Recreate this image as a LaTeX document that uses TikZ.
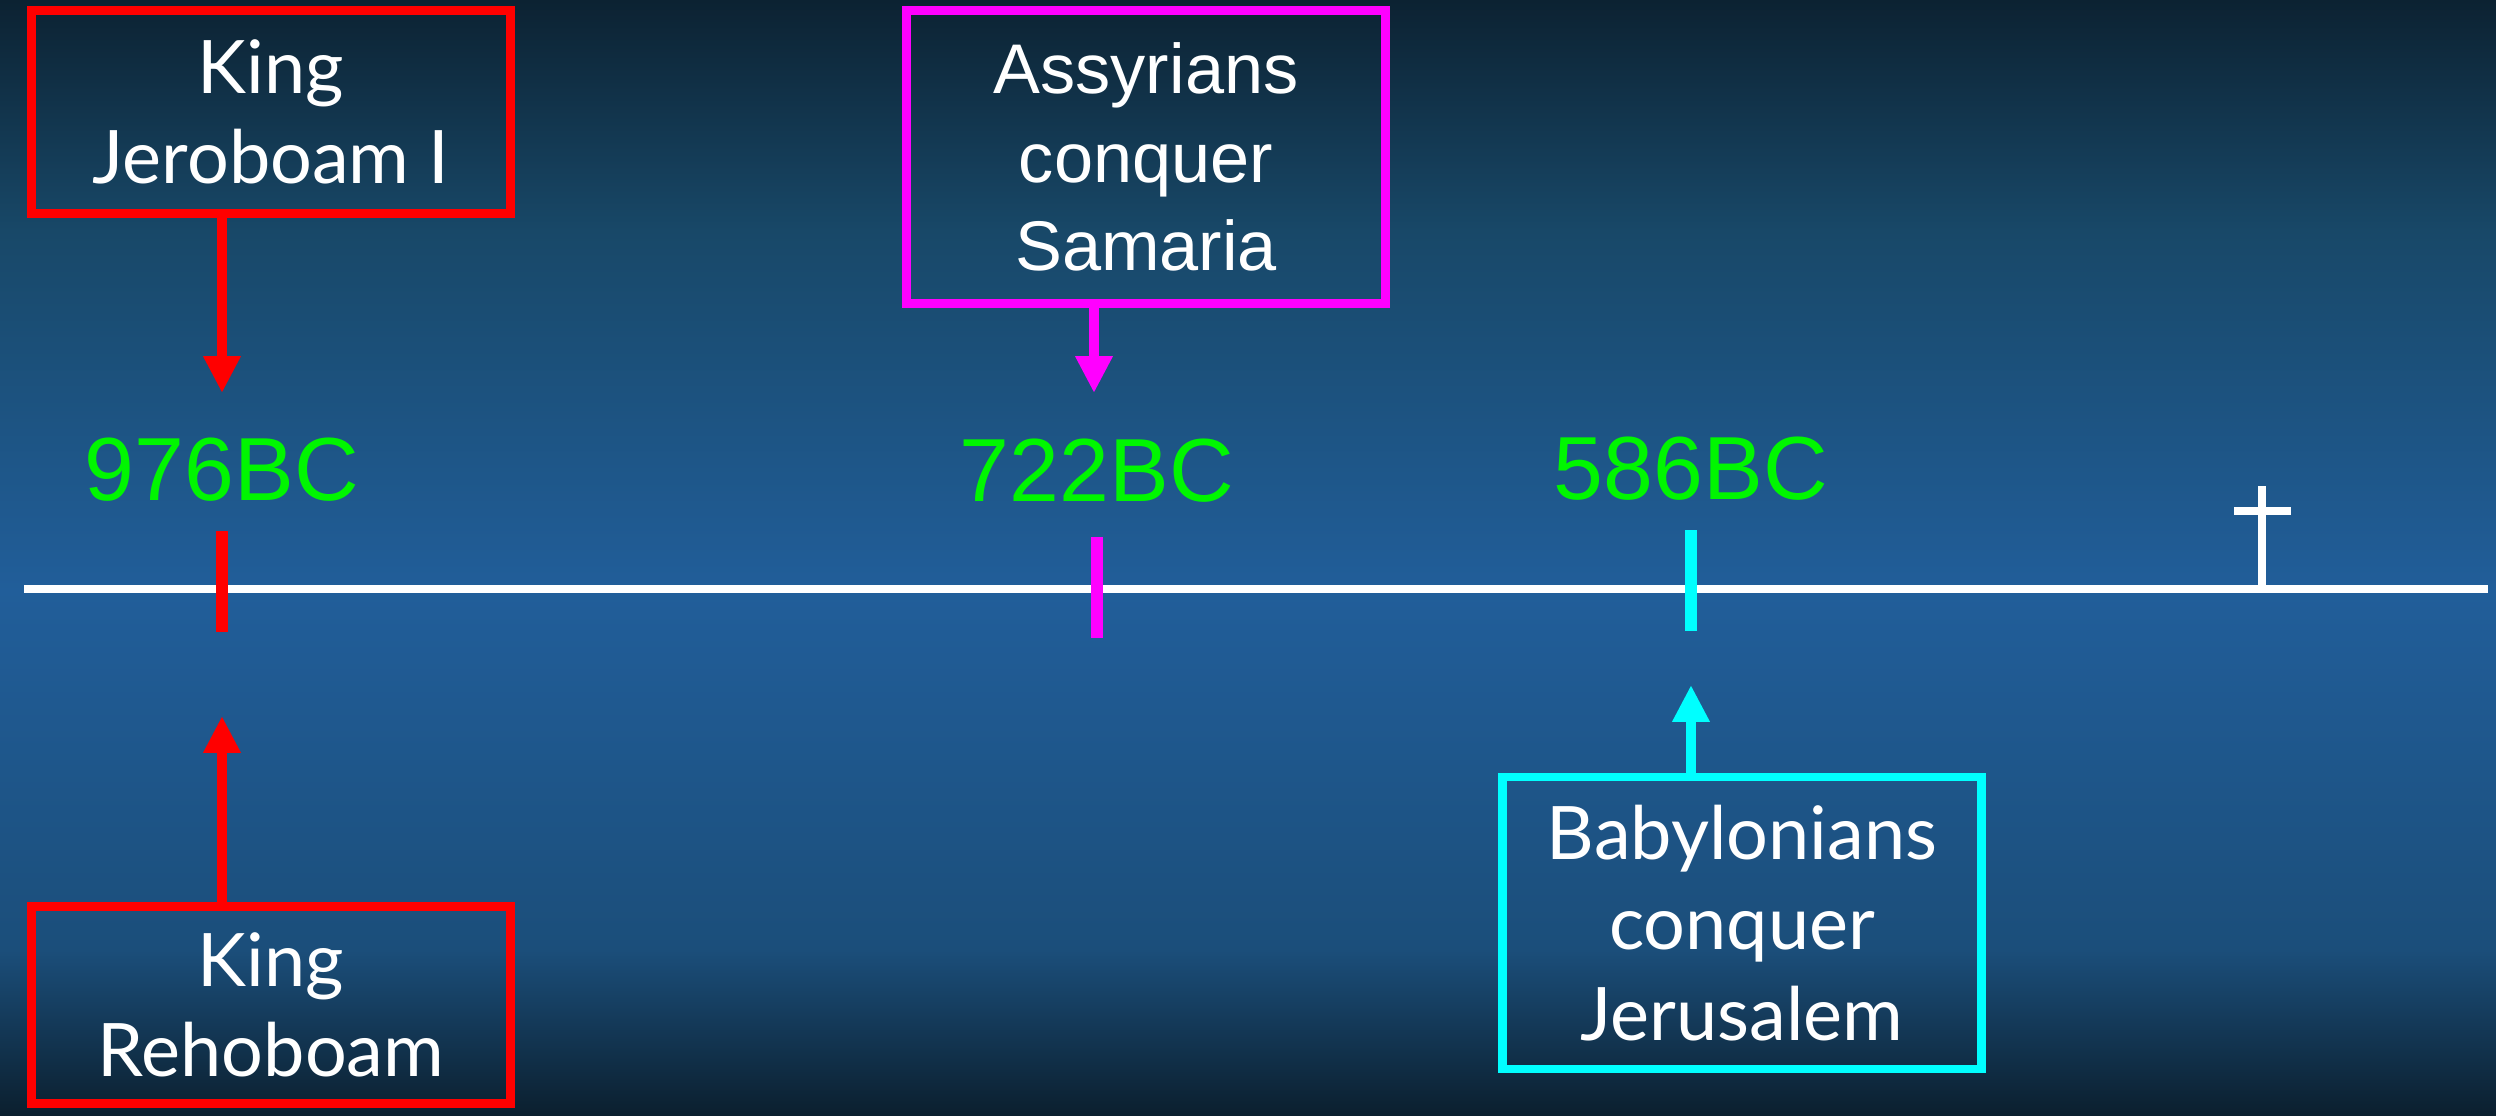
\documentclass[tikz,border=0pt]{standalone}
\usepackage{fontspec}
\setmainfont{Lato}
\newfontfamily\arialfont{Liberation Sans}
\usetikzlibrary{arrows.meta,positioning}

\definecolor{bgtop}{HTML}{0C2232}
\definecolor{bgupper}{HTML}{184868}
\definecolor{bgmid}{HTML}{215E9A}
\definecolor{bglower}{HTML}{1B4E7A}
\definecolor{bgbot}{HTML}{0B1F2E}
\definecolor{dategreen}{HTML}{00F600}
\definecolor{evred}{HTML}{FF0000}
\definecolor{evmagenta}{HTML}{FF00FF}
\definecolor{evcyan}{HTML}{00FFFF}

\begin{document}
\begin{tikzpicture}[x=0.1mm,y=-0.1mm,>={Triangle[width=10pt,length=10.5pt]},node distance=2.9mm]
  % background
  \shade[top color=bgtop,bottom color=bgupper]  (0,0)   rectangle (2496,231);
  \shade[top color=bgupper,bottom color=bgmid]  (0,230) rectangle (2496,591);
  \shade[top color=bgmid,bottom color=bglower]  (0,590) rectangle (2496,951);
  \shade[top color=bglower,bottom color=bgbot]  (0,950) rectangle (2496,1116);
  \useasboundingbox (0,0) rectangle (2496,1116);

\tikzset{evbox/.style={draw=#1,line width=2.3pt,minimum width=47.9mm,align=center,
           text=white,font=\fontsize{21}{25.8}\selectfont,inner sep=0pt}}
\tikzset{datelabel/.style={text=dategreen,font=\arialfont\fontsize{25.5}{30}\selectfont,inner sep=0pt}}
\tikzset{evtick/.style={line width=3.4pt,draw=#1}}
\tikzset{evarrow/.style={->,line width=3pt,draw=#1,fill=#1}}
\tikzset{axis/.style={draw=white,line width=2.3pt}}

  % time line and cross
  \coordinate (L)  at (24,589);
  \coordinate (R)  at (2488,589);
  \coordinate (X)  at (2262,589);
  \draw[axis] (L) -- (R);
  \draw[axis] (X) -- ++(0,-103);
  \draw[axis] (2234,511) -- (2291,511);

  % ticks
  \coordinate (T976) at (222,531);
  \coordinate (T722) at (1097,537);
  \coordinate (T586) at (1691,530);
  \draw[evtick=evred]     (T976) -- ++(0,101);
  \draw[evtick=evmagenta] (T722) -- ++(0,101);
  \draw[evtick=evcyan]    (T586) -- ++(0,101);

  % dates
  \node[datelabel] (D976) [above=of T976] {976BC};
  \node[datelabel] (D722) [above=3.4mm of T722] {722BC};
  \node[datelabel] (D586) [above=of T586] {586BC};

  % events
  \node[evbox=evred,minimum height=20.3mm]     (Jer) at (271,112)  {King\\Jeroboam I};
  \node[evbox=evred,minimum height=19.7mm]     (Reh) at (271,1005) {King\\Rehoboam};
  \node[evbox=evmagenta,minimum height=29.3mm,font=\arialfont\fontsize{20}{25.2}\selectfont]
                                               (Sam) at (1146,157) {Assyrians\\conquer\\Samaria};
  \node[evbox=evcyan,minimum height=29.2mm]    (Bab) at (1742,923) {Babylonians\\conquer\\Jerusalem};

  \coordinate (P976) at (222,393);
  \coordinate (Q976) at (222,716);
  \coordinate (P722) at (1094,393);
  \coordinate (P586) at (1691,685);
  \draw[evarrow=evred]     (Jer.south -| P976) -- (P976);
  \draw[evarrow=evred]     (Reh.north -| Q976) -- (Q976);
  \draw[evarrow=evmagenta] (Sam.south -| P722) -- (P722);
  \draw[evarrow=evcyan]    (Bab.north -| P586) -- (P586);
\end{tikzpicture}
\end{document}
